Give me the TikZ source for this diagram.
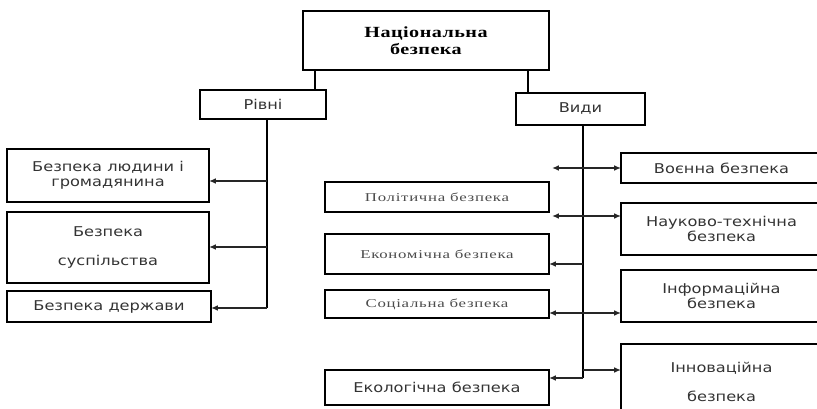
\documentclass[tikz,border=0pt]{standalone}
\usepackage{fontspec}
\setmainfont{DejaVu Sans}[FakeStretch=1.2]
\newfontfamily\titlefont{Liberation Serif}[FakeStretch=1.3,LetterSpace=3]
\newfontfamily\kindfont{Liberation Serif}[FakeStretch=1.4,LetterSpace=6]
\usepackage{tikz}
\usetikzlibrary{arrows.meta, positioning}

\begin{document}
\begin{tikzpicture}[
  x=1pt, y=-1pt,
  font=\fontsize{13.5}{15.5}\selectfont,
  box/.style={
    draw,
    line width=1.7pt,
    align=center,
    inner sep=0pt,
    outer sep=0pt,
    text=black!80
  },
  kindbox/.style={box, font=\fontsize{12}{14}\selectfont\kindfont, text=black!70},
  trunk/.style={line width=2.4pt},
  arrow/.style={-{Latex[length=2.4mm, width=2mm]}, line width=1.4pt, black!85},
  twoway/.style={{Latex[length=2.4mm, width=2mm]}-{Latex[length=2.4mm, width=2mm]}, line width=1.4pt, black!85}
]
\useasboundingbox (0,0) rectangle (817,409);

% ================= top =================
\node[box, minimum width=246pt, minimum height=59pt, text=black,
  font=\fontsize{15.5}{16.5}\selectfont\titlefont\bfseries] (nat) at (426,40.5)
  {Національна\\безпека};

\node[box, minimum width=126pt, minimum height=29pt] (levels) at (263,104.5) {Рівні};
\node[box, minimum width=129pt, minimum height=32pt] (kinds) at (580.5,109) {Види};

\draw[trunk] (nat.south -| 315,0) -- (levels.north -| 315,0);
\draw[trunk] (nat.south -| 528,0) -- (kinds.north -| 528,0);

% ================= levels branch =================
\node[box, minimum width=202pt, minimum height=53pt] (human) at (108,175.5)
  {Безпека людини і\\громадянина};
\node[box, minimum width=202pt, minimum height=71pt] (society) at (108,247.5)
  {Безпека\\[14pt]суспільства};
\node[box, minimum width=204pt, minimum height=31pt] (state) at (109,306.5)
  {Безпека держави};

\coordinate (lvtop) at (267,119);
\coordinate (lv1) at (267,181);
\coordinate (lv2) at (267,247);
\coordinate (lv3) at (267,308);
\draw[trunk] (lvtop) -- (lv3);
\draw[arrow] (lv1) -- (lv1 -| human.east);
\draw[arrow] (lv2) -- (lv2 -| society.east);
\draw[arrow] (lv3) -- (lv3 -| state.east);

% ================= kinds branch =================
\node[kindbox, minimum width=224pt, minimum height=30pt] (polit) at (437,197) {Політична безпека};
\node[kindbox, minimum width=224pt, minimum height=40pt] (econ) at (437,254) {Економічна безпека};
\node[kindbox, minimum width=224pt, minimum height=28pt] (social) at (437,304) {Соціальна безпека};
\node[box, minimum width=224pt, minimum height=35pt] (ecol) at (437,387.5) {Екологічна безпека};

\node[box, minimum width=201pt, minimum height=30pt] (milit) at (721.5,168) {Воєнна безпека};
\node[box, minimum width=201pt, minimum height=52pt] (science) at (721.5,229)
  {Науково-технічна\\безпека};
\node[box, minimum width=201pt, minimum height=52pt] (inform) at (721.5,296)
  {Інформаційна\\безпека};
\node[box, minimum width=201pt, minimum height=76pt] (innov) at (721.5,382)
  {Інноваційна\\[14pt]безпека};

\coordinate (kdtop) at (583,125);
\coordinate (kd1) at (552,168);
\coordinate (kd2) at (552,216);
\coordinate (kd3) at (583,264);
\coordinate (kd4) at (583,370);
\coordinate (kdend) at (583,378);
\draw[trunk] (kdtop) -- (kdend);
\draw[twoway] (kd1) -- (kd1 -| milit.west);
\draw[twoway] (kd2) -- (kd2 -| science.west);
\draw[arrow] (kd3) -- (kd3 -| econ.east);
\draw[twoway] (social.east |- 0,313) -- (inform.west |- 0,313);
\draw[arrow] (kd4) -- (kd4 -| innov.west);
\draw[arrow] (kdend) -- (kdend -| ecol.east);

\end{tikzpicture}
\end{document}
